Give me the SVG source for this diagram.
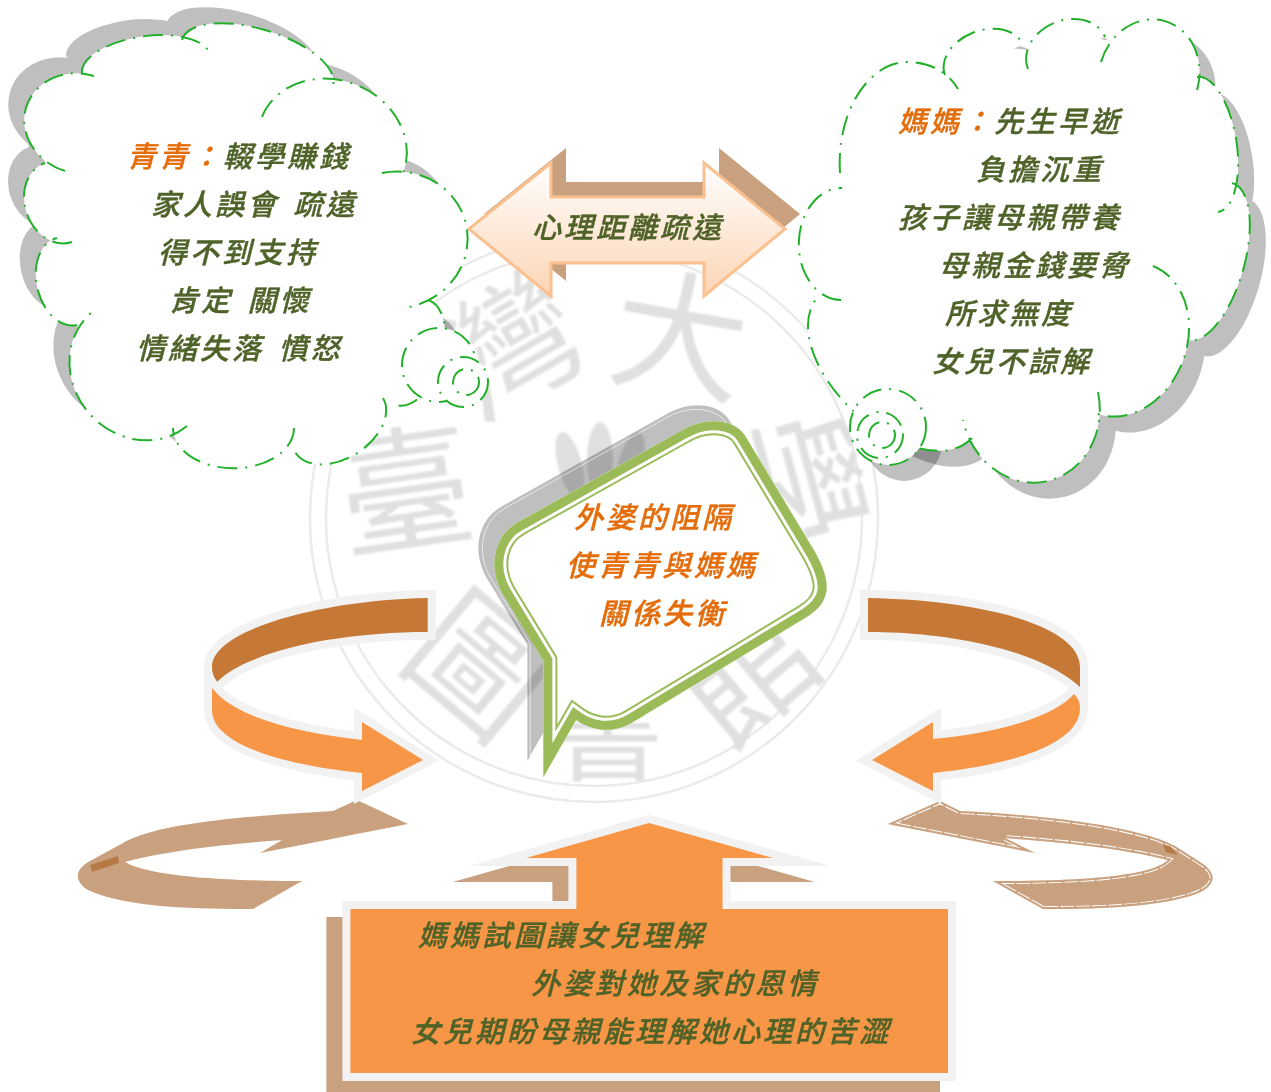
<svg xmlns="http://www.w3.org/2000/svg" width="1271" height="1092" viewBox="0 0 1271 1092">
<style>
text{font-family:"Noto Sans CJK TC","Noto Sans CJK SC",sans-serif;font-style:italic;font-size:29px;letter-spacing:3px;word-spacing:5px;font-weight:500;stroke-width:0.4px}
.g{fill:#4f6228;stroke:#4f6228}
.o{fill:#e46c0a;stroke:#e46c0a}
.dash{fill:none;stroke:#22b02a;stroke-width:2;stroke-dasharray:20 8 2 8}
.wm{font-style:normal;font-size:135px;fill:#e0e0e0;stroke:none;font-weight:400;letter-spacing:0;text-anchor:middle}
.band{stroke:#f2f2f2;stroke-width:16;paint-order:stroke;stroke-miterlimit:10}
.dk{fill:#c67936}
.lt{fill:#f79646}
.br{fill:#c9a17f}
.pt{fill:#b67a45}
</style>
<defs>
<linearGradient id="grad" x1="0" y1="0" x2="0" y2="1"><stop offset="0" stop-color="#ffffff"/><stop offset="1" stop-color="#fcd5b5"/></linearGradient>
<filter id="soft" x="-5%" y="-5%" width="110%" height="110%"><feGaussianBlur stdDeviation="1.2"/></filter>
<path id="bubble" d="M543.4 777L543.4 661L503 594.4C487 567 494 535 518 522.3L682.7 430C706 416 736 419 745.8 437L812 547C833 582 832 602 805 618L633 722C612 735 590 730 576 720Z"/>
<clipPath id="bclip"><use href="#bubble"/></clipPath>
<path id="bigArrow" d="M649 823L773 858L722.5 858L722.5 909L948 909L948 1073L350.4 1073L350.4 909L576.4 909L576.4 858L526 858Z"/>
<path id="rbrown" d="M888 824L940 801L960 811C1060 816 1140 828 1175 846L1203 864C1222 878 1210 890 1190 896C1150 908 1090 909 1043 909L993 881C1070 881 1150 878 1168 860C1120 848 1060 842 1005 838L1035 853Z"/>
<clipPath id="rclip"><use href="#rbrown"/></clipPath>
<path id="lArcs" d="M65 171A49 55 107 0 1 94 76M82 73A64 28 -8 0 1 210 56M182 40A78 33 17 0 1 333 85M262 117A75 64 22 0 1 403 173M382 173A68 72 79 0 1 409 307M428 300A54 30 107 0 1 396 405M383 398A51 33 148 0 1 295 452M294 428A60 40 180 0 1 173 428M187 426A73 66 230 0 1 92 312M77 325A44 30 257 0 1 57 238M72 242A41 33 251 0 1 45 163"/>
<path id="lCore" d="M80 75L143 45L182 40L257 40L333 85L380 110L403 175L460 235L428 300L440 350L396 405L345 445L295 452L233 460L173 428L100 405L77 325L42 270L57 238L30 200L45 163L30 120Z"/>
<path id="rArcs" d="M840 173C836 110 870 62 907 62C930 62 948 72 958 89M945 75A41 29 -21 0 1 1023 45M1028 69A41 32 -23 0 1 1105 37M1101 62A49 56 16 0 1 1197 90M1197 77A68 29 81 0 1 1218 212M1232 183A81 34 106 0 1 1188 340M1153 266A78 62 111 0 1 1095 413M1098 392A68 76 168 0 1 963 420M972 438A104 60 222.5 0 1 818 297M841 300A55 42 -89.5 0 1 842 188"/>
<path id="rCore" d="M840 173L900 75L948 73L985 45L1028 50L1068 30L1105 40L1150 30L1197 85L1225 150L1232 185L1240 260L1188 340L1165 390L1097 413L1032 470L972 438L870 400L820 297L810 240Z"/>
</defs>

<g id="watermark">
<g fill="none" stroke="#ebebeb" stroke-width="2.5"><circle cx="594" cy="518" r="284"/><circle cx="594" cy="518" r="268"/></g>
<g fill="#e0e0e0" filter="url(#soft)"><ellipse cx="570" cy="465" rx="12" ry="34" transform="rotate(-15 570 465)"/><ellipse cx="600" cy="460" rx="13" ry="38"/><ellipse cx="630" cy="465" rx="12" ry="34" transform="rotate(15 630 465)"/></g>
<g filter="url(#soft)">
<text class="wm" x="405" y="540" transform="rotate(-8 405 490)">臺</text>
<text class="wm" x="510" y="395" transform="rotate(-30 510 345)">灣</text>
<text class="wm" x="680" y="385" transform="rotate(10 680 335)">大</text>
<text class="wm" x="800" y="530" transform="rotate(75 800 480)">學</text>
<text class="wm" x="745" y="720" transform="rotate(-40 745 670)">館</text>
<text class="wm" x="608" y="772" style="font-size:110px">書</text>
<text class="wm" x="480" y="715" transform="rotate(40 480 665)">圖</text>
</g>
</g>

<g id="connectors">
<g id="link-arrow-left-down">
<path class="br" d="M408 824L357 800L333 811C250 816 160 822 123 843L90 861C70 872 78 885 90 891C130 908 200 909 253 909L302 881C230 881 150 877 125 862C170 850 230 844 282 840L260 853Z"/>
<path class="pt" d="M90 865L118 856L119 863L92 872Z"/>
</g>
<g id="link-arrow-right-down">
<use href="#rbrown" class="br"/>
<g clip-path="url(#rclip)">
<use href="#rbrown" fill="none" stroke="#fff" stroke-width="6" stroke-dasharray="14 2"/>
<use href="#rbrown" fill="none" stroke="#c9a17f" stroke-width="4"/>
</g>
<path class="pt" d="M1163 845L1170 846L1178 855L1166 852Z"/>
</g>
<g id="link-arrow-left">
<path class="dk band" d="M427.7 598C320 600 212 630 212 667Q212 675 217 682C250 650 340 632 427.7 632Z"/>
<path class="lt band" d="M212 688C235 718 300 733 362 740L362 722L423 760L362 791L362 773C285 765 212 745 212 710Z"/>
</g>
<g id="link-arrow-right">
<path class="dk band" d="M868 598C980 600 1080 625 1080 667L1080 687C1040 650 950 632 868 632Z"/>
<path class="lt band" d="M1074 694Q1080 700 1080 708C1080 745 1010 765 933 773L933 791L872 760L933 722L933 739C1000 733 1055 716 1074 694Z"/>
</g>
</g>

<g id="node-distance">
<polygon fill="#c9a17f" points="484,214 566,148 566,182 719,182 719,148 800,214 719,281 719,248 566,248 566,281"/>
<polygon fill="url(#grad)" stroke="#fac08f" stroke-width="3" points="469,229 551,163 551,197 704,197 704,163 785,229 704,296 704,263 551,263 551,296"/>
<text class="g" x="532" y="238">心理距離疏遠</text>
</g>

<g id="node-qingqing">
<g opacity="0.25" transform="translate(-16 -16)"><use href="#lArcs"/><use href="#lCore"/></g>
<g fill="#000" opacity="0.25" transform="translate(-16 -16)"><circle cx="439" cy="365" r="37"/></g>
<g fill="#fff"><use href="#lArcs"/><use href="#lCore"/></g>
<use href="#lArcs" class="dash"/>
<circle cx="439" cy="365" r="37" fill="#fff" stroke="none"/>
<circle class="dash" cx="439" cy="365" r="37"/>
<circle cx="463" cy="382" r="25" fill="#fff"/>
<circle class="dash" cx="463" cy="382" r="25"/>
<circle class="dash" cx="466" cy="382" r="13"/>
<text class="g" x="127" y="167"><tspan class="o">青青：</tspan>輟學賺錢</text>
<text class="g" x="151" y="215">家人誤會 疏遠</text>
<text class="g" x="158" y="263">得不到支持</text>
<text class="g" x="169" y="311">肯定 關懷</text>
<text class="g" x="136" y="359">情緒失落 憤怒</text>
</g>

<g id="node-mother">
<g opacity="0.25" transform="translate(16 16)"><use href="#rArcs"/><use href="#rCore"/></g>
<g fill="#000" opacity="0.25" transform="translate(16 16)"><circle cx="888" cy="427" r="38"/></g>
<g fill="#fff"><use href="#rArcs"/><use href="#rCore"/></g>
<use href="#rArcs" class="dash"/>
<circle cx="888" cy="427" r="38" fill="#fff"/>
<circle class="dash" cx="888" cy="427" r="38"/>
<circle class="dash" cx="880" cy="435" r="23"/>
<circle class="dash" cx="882" cy="435" r="13"/>
<text class="g" x="898" y="132"><tspan class="o">媽媽：</tspan>先生早逝</text>
<text class="g" x="976" y="180">負擔沉重</text>
<text class="g" x="898" y="228">孩子讓母親帶養</text>
<text class="g" x="939" y="276">母親金錢要脅</text>
<text class="g" x="945" y="324">所求無度</text>
<text class="g" x="932" y="372">女兒不諒解</text>
</g>

<g id="node-grandma">
<g transform="translate(-16 -16)">
<use href="#bubble" fill="#000" opacity="0.25"/>
<use href="#bubble" fill="none" stroke="#fff" stroke-width="0.8" opacity="0.8" transform="translate(655 590) scale(0.975) translate(-655 -590)"/>
</g>
<use href="#bubble" fill="#fff"/>
<g clip-path="url(#bclip)" fill="none" stroke-linejoin="miter" stroke-miterlimit="12">
<use href="#bubble" stroke="#9bbb59" stroke-width="28"/>
<use href="#bubble" stroke="#fff" stroke-width="24"/>
<use href="#bubble" stroke="#9bbb59" stroke-width="18"/>
</g>
<text class="o" x="574" y="528">外婆的阻隔</text>
<text class="o" x="566" y="576">使青青與媽媽</text>
<text class="o" x="599" y="624">關係失衡</text>
</g>

<g id="node-attempt">
<use href="#bigArrow" transform="translate(-16 16)" fill="#c9a17f" stroke="#c9a17f" stroke-width="16" stroke-miterlimit="10"/>
<use href="#bigArrow" class="lt band"/>
<text class="g" x="418" y="946">媽媽試圖讓女兒理解</text>
<text class="g" x="531" y="994">外婆對她及家的恩情</text>
<text class="g" x="411" y="1042">女兒期盼母親能理解她心理的苦澀</text>
</g>
</svg>
